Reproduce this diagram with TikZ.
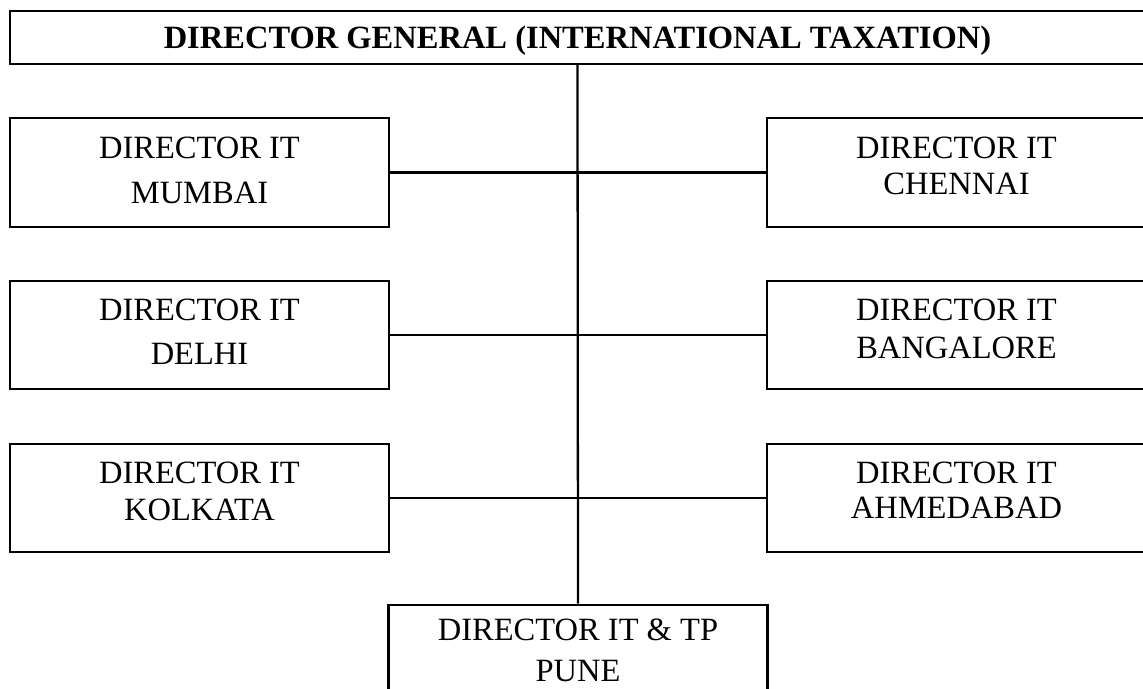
\documentclass[tikz,border=0pt]{standalone}
\usepackage{fontspec}
\setmainfont{Liberation Serif}
\usepackage{tikz}
\usetikzlibrary{positioning}

\begin{document}
\begin{tikzpicture}[
          x=0.02cm,y=-0.02cm,
          line width=1.3pt,
          every node/.style={font=\fontsize{18.5}{22}\selectfont},
          head/.style={draw,minimum width=22.7cm,minimum height=1.06cm,text depth=0pt,
                       font=\fontsize{18.5}{22}\selectfont\bfseries},
          office/.style={draw,minimum width=7.58cm,minimum height=2.17cm},
          lbl/.style={align=center,inner sep=0pt,
                      font=\fontsize{18.5}{#1}\selectfont},
      ]
        \useasboundingbox (0,0) rectangle (1143,689);
        \clip (0,0) rectangle (1143,689);

        \node[head] (dg) at (577.5,37.5) {DIRECTOR GENERAL (INTERNATIONAL TAXATION)};

        \node[office] (mum) at (199.5,172.5) {};
        \node[office] (del) at (199.5,335) {};
        \node[office] (kol) at (199.5,498) {};
        \node[office] (che) at (956.5,172.5) {};
        \node[office] (ban) at (956.5,335) {};
        \node[office] (ahm) at (956.5,498) {};
        \node[office] (pun) at (578,659) {};

        \node[lbl=25.6pt,below=0.37cm of mum.north] (mumt) {DIRECTOR IT\\MUMBAI};
        \node[lbl=25pt,below=0.37cm of del.north] (delt) {DIRECTOR IT\\DELHI};
        \node[lbl=21pt,below=0.37cm of kol.north] (kolt) {DIRECTOR IT\\KOLKATA};
        \node[lbl=20.5pt,below=0.37cm of che.north] (chet) {DIRECTOR IT\\CHENNAI};
        \node[lbl=21.6pt,below=0.37cm of ban.north] (bant) {DIRECTOR IT\\BANGALORE};
        \node[lbl=19.9pt,below=0.37cm of ahm.north] (ahmt) {DIRECTOR IT\\AHMEDABAD};
        \node[lbl=23.3pt,below=0.29cm of pun.north] (punt) {DIRECTOR IT \& TP\\PUNE};

        \draw (dg.south) -- (pun.north);
        \draw (mum.east) -- (che.west);
        \draw (del.east) -- (ban.west);
        \draw (kol.east) -- (ahm.west);
      \end{tikzpicture}
\end{document}
